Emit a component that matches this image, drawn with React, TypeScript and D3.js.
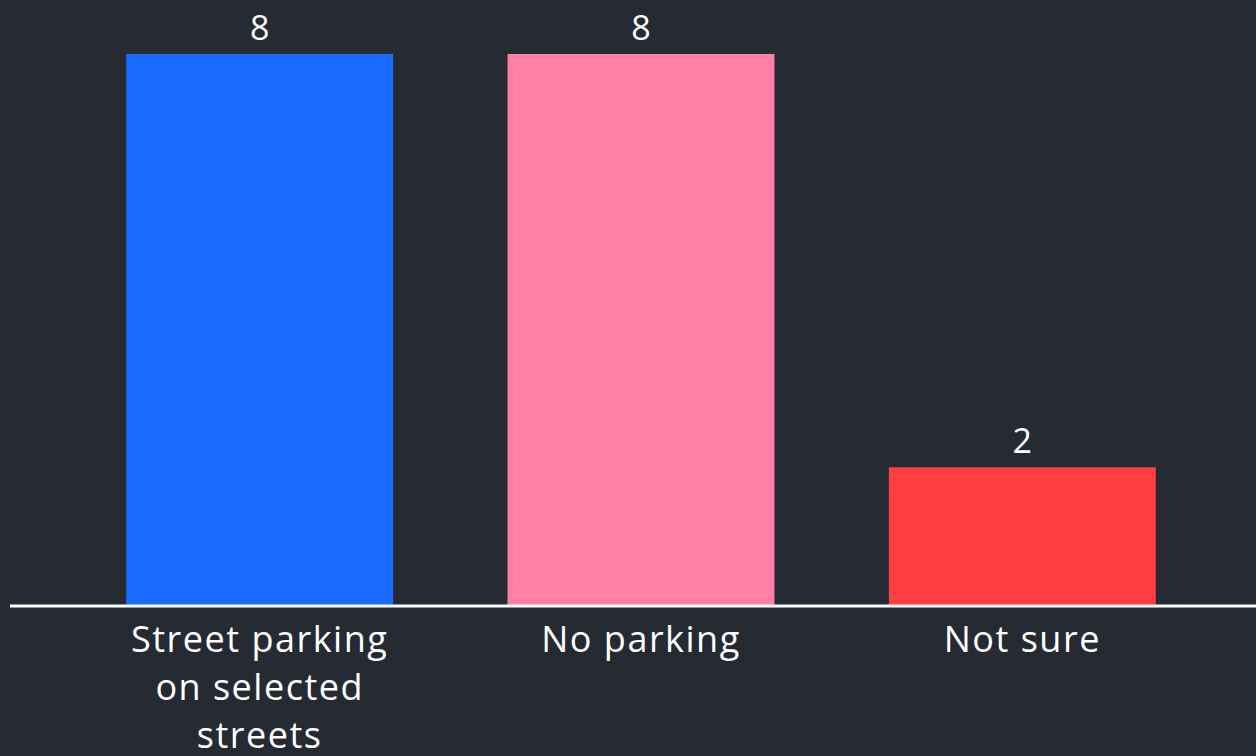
import React from "react";
import * as d3 from "d3";

const categories = ["Street parking on selected streets", "No parking", "Not sure"];
const categoryLines = [["Street parking", "on selected", "streets"], ["No parking"], ["Not sure"]];
const values = [8, 8, 2];
const colors = ["#1a6bff", "#ff7fa7", "#ff3f3f"];

const W = 1256;
const H = 756;
const baseY = 605;
const topY = 54;

export default function App() {
  const x = d3.scaleBand<string>().domain(categories).range([69, 1213]).paddingInner(0.3).paddingOuter(0.15);
  const y = d3.scaleLinear().domain([0, 8]).range([baseY, topY]);
  const font = "'Open Sans', Lato, sans-serif";
  return (
    <div style={{ position: "fixed", left: 0, top: 0, width: W, height: H, background: "#262a33" }}>
      <svg width={W} height={H} style={{ display: "block" }}>
        <rect x={0} y={0} width={W} height={H} fill="#262a33" />
        {categories.map((c, i) => (
          <g key={c}>
            <rect x={x(c)} y={y(values[i])} width={x.bandwidth()} height={baseY - y(values[i])} fill={colors[i]} />
            <text x={(x(c) as number) + x.bandwidth() / 2} y={y(values[i]) - 14} textAnchor="middle" fill="#ffffff" fontSize={34} fontFamily={font}>
              {values[i]}
            </text>
            <text textAnchor="middle" fill="#ffffff" fontSize={36} fontFamily={font} letterSpacing={1.5}>
              {categoryLines[i].map((l, j) => (
                <tspan key={j} x={(x(c) as number) + x.bandwidth() / 2} y={652 + j * 48}>{l}</tspan>
              ))}
            </text>
          </g>
        ))}
        <line x1={10} x2={W} y1={y(0) + 1} y2={y(0) + 1} stroke="#ffffff" strokeWidth={3} />
      </svg>
    </div>
  );
}
